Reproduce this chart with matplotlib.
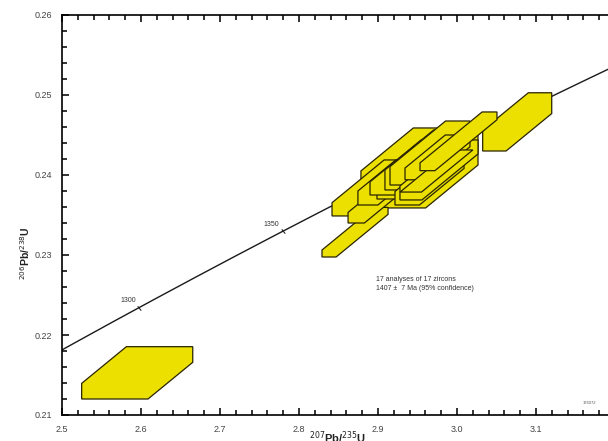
import numpy as np
import matplotlib
matplotlib.use('Agg')
import matplotlib.pyplot as plt
from matplotlib.patches import Polygon
from matplotlib.ticker import MultipleLocator

plt.rcParams['font.family'] = ['Liberation Sans', 'DejaVu Sans']

# U-Pb analyses: 207Pb/235U and 206Pb/238U with half-widths of the error boxes,
# and the half-height of the correlation band that cuts the box corners
pb207_u235 = [2.5952, 2.9525, 3.0762, 2.8880, 2.8709, 2.9013, 2.9111, 2.9386, 2.9437,
              2.9405, 2.9563, 2.9658, 2.9652, 2.9772, 2.9753, 2.9740, 3.0019]
pb207_err = [0.0703, 0.0741, 0.0437, 0.0462, 0.0418, 0.0392, 0.0365, 0.0399, 0.0411,
             0.0506, 0.0475, 0.0506, 0.0437, 0.0494, 0.0411, 0.0525, 0.0487]
pb206_u238 = [0.21527, 0.24088, 0.24664, 0.23838, 0.23285, 0.23700, 0.23906, 0.24006, 0.24088,
              0.24094, 0.24188, 0.24275, 0.23938, 0.24063, 0.24220, 0.24050, 0.24421]
pb206_err = [0.00327, 0.00500, 0.00364, 0.00350, 0.00310, 0.00300, 0.00281, 0.00306, 0.00250,
             0.00344, 0.00375, 0.00400, 0.00313, 0.00375, 0.00280, 0.00263, 0.00367]
band_half = [0.00438, 0.00563, 0.00250, 0.00190, 0.00116, 0.00150, 0.00190, 0.00200, 0.00220,
             0.00230, 0.00260, 0.00240, 0.00210, 0.00200, 0.00200, 0.00110, 0.00125]
band_slope = 0.081

# concordia age marks (Ma)
tick_ages = [1300, 1350]
summary = ['17 analyses of 17 zircons', '1407 \u00b1  7 Ma (95% confidence)']

L238 = 1.55125e-10
L235 = 9.8485e-10


def concordia(t_ma):
    t = np.asarray(t_ma) * 1e6
    return np.exp(L235 * t) - 1, np.exp(L238 * t) - 1


def clip(poly, f):
    out = []
    n = len(poly)
    for i in range(n):
        p, q = poly[i], poly[(i + 1) % n]
        fp, fq = f(p), f(q)
        if fp >= 0:
            out.append(p)
        if (fp >= 0) != (fq >= 0):
            r = fp / (fp - fq)
            out.append((p[0] + r * (q[0] - p[0]), p[1] + r * (q[1] - p[1])))
    return out


def error_box(cx, hx, cy, hy, d, s):
    rect = [(cx - hx, cy - hy), (cx + hx, cy - hy), (cx + hx, cy + hy), (cx - hx, cy + hy)]
    rect = clip(rect, lambda p: d - (p[1] - cy - s * (p[0] - cx)))
    rect = clip(rect, lambda p: d + (p[1] - cy - s * (p[0] - cx)))
    return rect


fig = plt.figure(figsize=(6.08, 4.41), dpi=100)
ax = fig.add_axes([62 / 608, 26 / 441, 553 / 608, 400 / 441])

# concordia curve
ages = np.linspace(1200, 1500, 400)
cx_, cy_ = concordia(ages)
ax.plot(cx_, cy_, color='#1a1a1a', lw=1.0, zorder=1)

tx, ty = concordia(tick_ages)
for x, y, age in zip(tx, ty, tick_ages):
    ax.plot(x, y, marker=(2, 0, 39), ms=4, mew=0.8, color='#222222', zorder=1)
    ax.annotate(str(age), (x, y), xytext=(-8, 5), textcoords='offset points',
                ha='center', va='center', fontsize=5, color='#333333')

# error boxes
for i in range(len(pb207_u235)):
    verts = error_box(pb207_u235[i], pb207_err[i], pb206_u238[i], pb206_err[i],
                      band_half[i], band_slope)
    ax.add_patch(Polygon(verts, closed=True, facecolor='#ebe000', edgecolor='#2a2400',
                         lw=0.9, zorder=2 + i))

ax.text(2.8975, 0.22638, '\n'.join(summary), fontsize=5, color='#333333',
        ha='left', va='center', linespacing=1.5)
ax.text(3.168, 0.2115, '176072', fontsize=3, color='#555555', ha='center', va='center')

ax.set_xlim(2.5, 3.2)
ax.set_ylim(0.21, 0.26)
ax.xaxis.set_major_locator(MultipleLocator(0.1))
ax.xaxis.set_minor_locator(MultipleLocator(0.02))
ax.yaxis.set_major_locator(MultipleLocator(0.01))
ax.yaxis.set_minor_locator(MultipleLocator(0.002))
ax.xaxis.set_major_formatter(plt.FuncFormatter(lambda v, p: f'{v:.1f}'))
ax.yaxis.set_major_formatter(plt.FuncFormatter(lambda v, p: f'{v:.2f}'))
ax.tick_params(which='both', direction='in', top=True, right=True, width=1.2,
               colors='#111111', labelcolor='#444444', labelsize=6.5)
ax.tick_params(which='major', length=5, pad=7)
ax.tick_params(which='minor', length=3.5)
for sp in ax.spines.values():
    sp.set_linewidth(1.2)

ax.set_xlabel(r'$^{207}$Pb/$^{235}$U', fontsize=8, fontweight='bold', color='#222222')
ax.set_ylabel(r'$^{206}$Pb/$^{238}$U', fontsize=7.5, fontweight='bold', color='#222222')
ax.xaxis.set_label_coords(0.499, -0.036)
ax.yaxis.set_label_coords(-0.054, 0.405)

fig.savefig('out.png', dpi=100)
